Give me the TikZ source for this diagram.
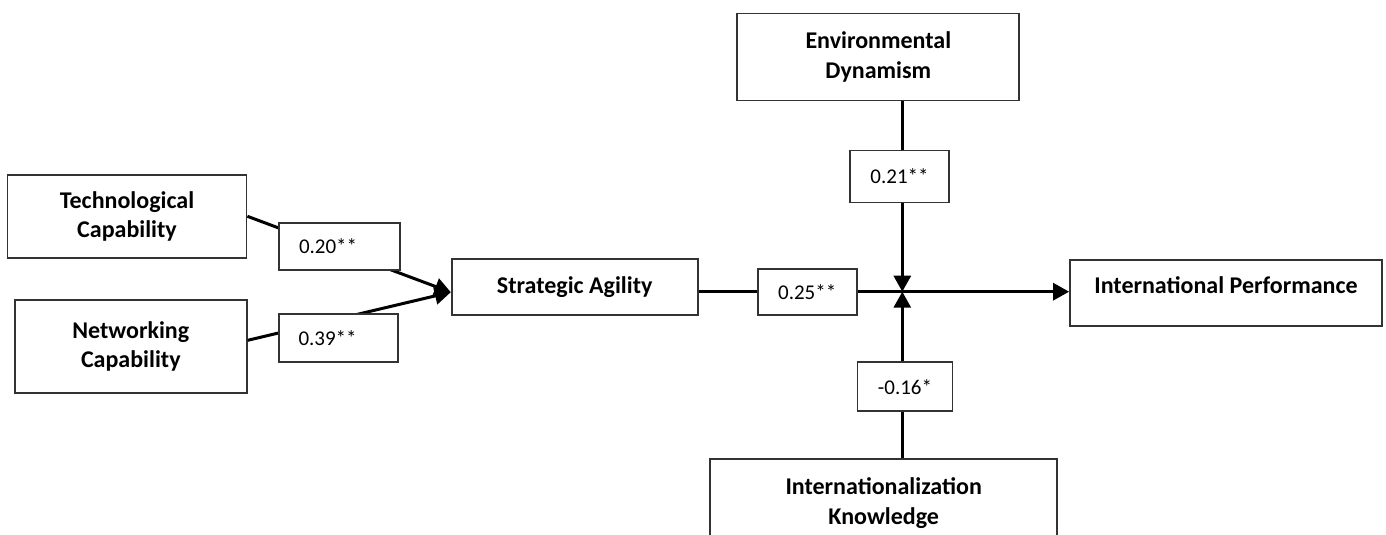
\documentclass[tikz,border=0pt]{standalone}
\usepackage{fontspec}
\setmainfont{Carlito}
\usetikzlibrary{arrows.meta,positioning}

\begin{document}
\begin{tikzpicture}[x=1pt,y=-1pt,
    var/.style={draw=black!80,line width=1.8pt,align=center,inner sep=0pt,
        font=\fontsize{24}{29.3}\selectfont\bfseries},
    coef/.style={draw=black!80,line width=1.8pt,fill=white,inner sep=0pt,
        font=\fontsize{21}{25}\selectfont},
    link/.style={line width=3pt,-{Triangle[length=16pt,width=17pt]}}]

\clip (0,0) rectangle (1386,535);

% variables
\node[var,minimum width=239pt,minimum height=83pt] (tech) at (127,216.3) {Technological\\Capability};
\node[var,minimum width=232pt,minimum height=93pt] (net) at (130.8,346.3) {Networking\\Capability};
\node[var,minimum width=246pt,minimum height=56pt] (sa) at (574.7,287.2) {Strategic Agility};
\node[var,minimum width=312pt,minimum height=66pt,text height=17pt,text depth=17pt] (ip) at (1226,293) {International Performance};
\node[var,minimum width=282pt,minimum height=87pt] (env) at (878.3,57) {Environmental\\Dynamism};
\node[var,minimum width=347pt,minimum height=88pt] (ik) at (883.7,503) {Internationalization\\Knowledge};

\coordinate (jn) at (902.3,291.7);

% paths
\draw[link] (tech.east) -- ([yshift=-5pt]sa.west);
\draw[link] ([yshift=6pt]net.east) -- ([yshift=-5pt]sa.west);
\draw[link] (sa.east |- jn) -- (ip.west |- jn);
\draw[link] (jn |- env.south) -- (jn);
\draw[link] (jn |- ik.north) -- (jn);

% coefficients
\node[coef,minimum height=47pt,text width=81pt,align=left,inner xsep=20pt] (cTech) at (339.5,246.5) {0.20**};
\node[coef,minimum height=48pt,text width=80pt,align=left,inner xsep=19.5pt] (cNet) at (338.5,338) {0.39**};
\node[coef,minimum width=99pt,minimum height=46pt] (cSa) at (807.2,292.2) {0.25**};
\node[coef,minimum width=99pt,minimum height=52pt] (cEnv) at (899.5,176.5) {0.21**};
\node[coef,minimum width=95pt,minimum height=49pt] (cIk) at (905,386.7) {-0.16*};

\end{tikzpicture}
\end{document}
